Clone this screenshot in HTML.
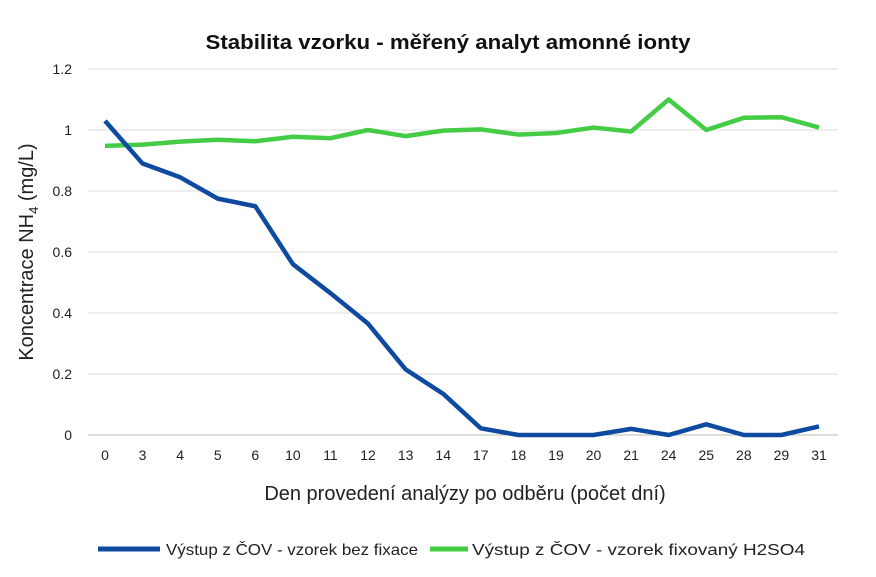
<!DOCTYPE html>
<html><head><meta charset="utf-8"><style>
body{margin:0;background:#fff;width:876px;height:572px;overflow:hidden;font-family:"Liberation Sans",sans-serif}
</style></head><body>
<svg id="c" width="876" height="572">
<text x="448" y="49" text-anchor="middle" font-size="20" font-weight="bold" fill="#111" textLength="485" lengthAdjust="spacingAndGlyphs">Stabilita vzorku - měřený analyt amonné ionty</text>
<text transform="translate(33,252) rotate(-90)" text-anchor="middle" font-size="20" fill="#222">Koncentrace NH<tspan font-size="13" dy="5">4</tspan><tspan dy="-5"> (mg/L)</tspan></text>
<text x="465" y="500" text-anchor="middle" font-size="20" fill="#222">Den provedení analýzy po odběru (počet dní)</text>
<g id="grid"></g><g id="series"></g>
<line x1="98" y1="549" x2="160" y2="549" stroke="#0d4aa0" stroke-width="5"/>
<text x="166" y="555" font-size="16" fill="#222" textLength="252" lengthAdjust="spacingAndGlyphs">Výstup z ČOV - vzorek bez fixace</text>
<line x1="430" y1="549" x2="468" y2="549" stroke="#44cc44" stroke-width="5"/>
<text x="472" y="555" font-size="16" fill="#222" textLength="333" lengthAdjust="spacingAndGlyphs">Výstup z ČOV - vzorek fixovaný H2SO4</text>
</svg>
<script>
const categories=[0,3,4,5,6,10,11,12,13,14,17,18,19,20,21,24,25,28,29,31];
const blueValues=[1.03,0.89,0.845,0.775,0.75,0.56,0.465,0.365,0.215,0.135,0.022,0,0,0,0.02,0,0.035,0,0,0.028];
const greenValues=[0.948,0.952,0.962,0.968,0.963,0.978,0.973,1.0,0.98,0.998,1.002,0.985,0.99,1.008,0.995,1.1,1.0,1.04,1.042,1.008];
const yTicks=[0,0.2,0.4,0.6,0.8,1,1.2];
const NS="http://www.w3.org/2000/svg";
const x=i=>105+i*(819-105)/(categories.length-1);
const y=v=>435-v*(435-69)/1.2;
const g=document.getElementById('grid'),s=document.getElementById('series');
yTicks.forEach(t=>{
 const l=document.createElementNS(NS,'line');
 l.setAttribute('x1',88);l.setAttribute('x2',838);l.setAttribute('y1',y(t));l.setAttribute('y2',y(t));
 l.setAttribute('stroke',t===0?'#bbb':'#ddd');
 
 
 g.appendChild(l);
 const tx=document.createElementNS(NS,'text');
 tx.setAttribute('x',72);tx.setAttribute('y',y(t)+5);tx.setAttribute('text-anchor','end');tx.setAttribute('font-size','14');tx.setAttribute('fill','#222');
 tx.textContent=String(t);
 
 
 g.appendChild(tx);
});
categories.forEach((c,i)=>{
 const tx=document.createElementNS(NS,'text');
 tx.setAttribute('x',x(i));tx.setAttribute('y',460);tx.setAttribute('text-anchor','middle');tx.setAttribute('font-size','14');tx.setAttribute('fill','#222');
 tx.textContent=c;
 
 
 g.appendChild(tx);
});
function line(vals,color,name){
 const p=document.createElementNS(NS,'polyline');
 p.setAttribute('points',vals.map((v,i)=>x(i)+','+y(v)).join(' '));
 p.setAttribute('fill','none');p.setAttribute('stroke',color);p.setAttribute('stroke-width','4.5');p.setAttribute('stroke-linejoin','round');
 
 
 s.appendChild(p);
}
line(greenValues,'#44cc44','series-fixed-h2so4');
line(blueValues,'#0d4aa0','series-no-fixation');
</script>
</body></html>
